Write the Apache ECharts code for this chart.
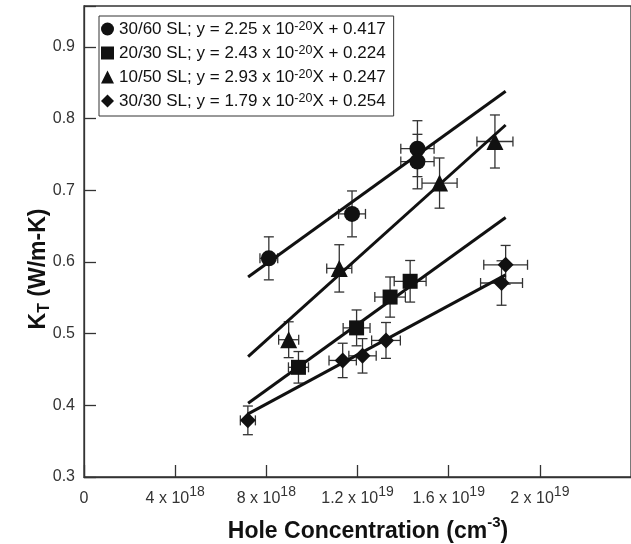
<!DOCTYPE html>
<html>
<head>
<meta charset="utf-8">
<script src="https://cdn.jsdelivr.net/npm/echarts@6/dist/echarts.min.js"></script>
<style>
  html, body { margin: 0; padding: 0; background: #fff; }
  #chart { width: 631px; height: 544px; }
</style>
</head>
<body>
<div id="chart"></div>
<script>
// hole concentration is kept in units of 1e18 cm^-3
const seriesNames = ['30/60 SL', '20/30 SL', '10/50 SL', '30/30 SL']
const symbols = ['circle', 'rect', 'triangle', 'diamond']
const symbolSizes = [16, 15, 17, 16]
const fitSlopes = ['2.25', '2.43', '2.93', '1.79']
const fitIntercepts = ['0.417', '0.224', '0.247', '0.254']

// 30/60 SL
const x3060 = [8.11, 11.76, 14.63, 14.63]
const y3060 = [0.605, 0.667, 0.758, 0.740]
const xErr3060 = [0.39, 0.59, 0.73, 0.73]
const yErr3060 = [0.030, 0.032, 0.039, 0.038]
// 20/30 SL
const x2030 = [9.41, 11.96, 13.43, 14.31]
const y2030 = [0.453, 0.508, 0.551, 0.573]
const xErr2030 = [0.44, 0.59, 0.67, 0.70]
const yErr2030 = [0.022, 0.025, 0.028, 0.029]
// 10/50 SL
const x1050 = [8.98, 11.2, 15.6, 18.03]
const y1050 = [0.4915, 0.591, 0.71, 0.768]
const xErr1050 = [0.44, 0.55, 0.77, 0.79]
const yErr1050 = [0.025, 0.033, 0.035, 0.037]
// 30/30 SL
const x3030 = [7.19, 11.35, 12.22, 13.25, 18.32, 18.5]
const y3030 = [0.379, 0.4626, 0.469, 0.4905, 0.5706, 0.596]
const xErr3030 = [0.33, 0.6, 0.6, 0.63, 0.92, 0.96]
const yErr3030 = [0.02, 0.024, 0.024, 0.025, 0.031, 0.027]

// fitted lines, end points
const fitX = [7.2, 18.5]
const fit3060 = [0.579, 0.838]
const fit2030 = [0.403, 0.662]
const fit1050 = [0.468, 0.791]
const fit3030 = [0.388, 0.582]

// x tick labels: mantissa x 10^exp
const xTicks = [0, 4, 8, 12, 16, 20]
const xTickMantissa = ['0', '4', '8', '1.2', '1.6', '2']
const xTickExp = ['', '18', '18', '19', '19', '19']

const groups = [
  { x: x3060, y: y3060, ex: xErr3060, ey: yErr3060, fit: fit3060 },
  { x: x2030, y: y2030, ex: xErr2030, ey: yErr2030, fit: fit2030 },
  { x: x1050, y: y1050, ex: xErr1050, ey: yErr1050, fit: fit1050 },
  { x: x3030, y: y3030, ex: xErr3030, ey: yErr3030, fit: fit3030 }
]

const FONT = '"Liberation Sans", Arial, Helvetica, sans-serif'
const INK = '#111'

function errorBars(params, api) {
  const x = api.value(0)
  const y = api.value(1)
  const ex = api.value(2)
  const ey = api.value(3)
  const c = api.coord([x, y])
  const top = api.coord([x, y + ey])[1]
  const bot = api.coord([x, y - ey])[1]
  const lft = api.coord([x - ex, y])[0]
  const rgt = api.coord([x + ex, y])[0]
  const cap = 5
  const style = { stroke: '#333', lineWidth: 1.3 }
  return {
    type: 'group',
    children: [
      { type: 'line', shape: { x1: c[0], y1: top, x2: c[0], y2: bot }, style },
      { type: 'line', shape: { x1: c[0] - cap, y1: top, x2: c[0] + cap, y2: top }, style },
      { type: 'line', shape: { x1: c[0] - cap, y1: bot, x2: c[0] + cap, y2: bot }, style },
      { type: 'line', shape: { x1: lft, y1: c[1], x2: rgt, y2: c[1] }, style },
      { type: 'line', shape: { x1: lft, y1: c[1] - cap, x2: lft, y2: c[1] + cap }, style },
      { type: 'line', shape: { x1: rgt, y1: c[1] - cap, x2: rgt, y2: c[1] + cap }, style }
    ]
  }
}

const series = []
groups.forEach((g, i) => {
  series.push({
    name: 'err' + i,
    type: 'custom',
    renderItem: errorBars,
    data: g.x.map((v, k) => [v, g.y[k], g.ex[k], g.ey[k]]),
    encode: { x: 0, y: 1 },
    clip: false,
    silent: true,
    z: 2
  })
  series.push({
    name: 'fit' + i,
    type: 'line',
    data: fitX.map((v, k) => [v, g.fit[k]]),
    symbol: 'none',
    lineStyle: { color: INK, width: 3 },
    silent: true,
    z: 3
  })
  series.push({
    name: seriesNames[i],
    type: 'scatter',
    symbol: symbols[i],
    symbolSize: symbolSizes[i],
    data: g.x.map((v, k) => [v, g.y[k]]),
    itemStyle: { color: INK, opacity: 1 },
    z: 4
  })
})

const myChart = echarts.init(document.getElementById('chart'))
myChart.setOption({
  backgroundColor: '#fff',
  animation: false,
  textStyle: { fontFamily: FONT },
  grid: {
    left: 84,
    top: 6,
    right: -1,
    bottom: 67,
    show: true,
    borderColor: '#333',
    borderWidth: 1.3
  },
  legend: {
    data: seriesNames,
    orient: 'vertical',
    left: 99,
    top: 16,
    padding: [4, 8, 6, 2],
    itemGap: 6,
    itemWidth: 13,
    itemHeight: 13,
    backgroundColor: '#fff',
    borderColor: '#333',
    borderWidth: 1,
    borderRadius: 0,
    formatter: name => {
      const i = seriesNames.indexOf(name)
      return '{a|' + name + '; y = ' + fitSlopes[i] + ' x 10}{s|-20}{a|X + ' + fitIntercepts[i] + '}'
    },
    textStyle: {
      rich: {
        a: { fontFamily: FONT, fontSize: 17, color: INK, lineHeight: 18, verticalAlign: 'bottom' },
        s: { fontFamily: FONT, fontSize: 12.5, color: INK, lineHeight: 12, verticalAlign: 'top' }
      }
    }
  },
  xAxis: {
    type: 'value',
    min: 0,
    max: 24,
    interval: 4,
    splitLine: { show: false },
    axisLine: { lineStyle: { color: '#333', width: 1.3 } },
    axisTick: { inside: true, length: 12, lineStyle: { color: '#333', width: 1.3 } },
    axisLabel: {
      margin: 8,
      showMaxLabel: false,
      formatter: v => {
        const i = xTicks.indexOf(v)
        if (i < 0) return ''
        if (!xTickExp[i]) return '{m|' + xTickMantissa[i] + '}'
        return '{m|' + xTickMantissa[i] + ' x 10}{e|' + xTickExp[i] + '}'
      },
      rich: {
        m: { fontFamily: FONT, fontSize: 16, color: '#333', lineHeight: 22, verticalAlign: 'bottom' },
        e: { fontFamily: FONT, fontSize: 14, color: '#333', lineHeight: 12, verticalAlign: 'top' }
      }
    }
  },
  yAxis: {
    type: 'value',
    min: 0.3,
    max: 0.957,
    interval: 0.1,
    splitLine: { show: false },
    axisLine: { lineStyle: { color: '#333', width: 1.3 } },
    axisTick: { inside: true, length: 12, lineStyle: { color: '#333', width: 1.3 } },
    axisLabel: {
      margin: 9,
      fontFamily: FONT,
      fontSize: 16,
      color: '#333',
      formatter: v => (Math.abs(v * 10 - Math.round(v * 10)) < 1e-6 ? v.toFixed(1) : '')
    }
  },
  graphic: [
    {
      type: 'text',
      x: 40,
      y: 269,
      rotation: Math.PI / 2,
      style: {
        text: '{k|K}{t|T}{k| (W/m-K)}',
        align: 'center',
        verticalAlign: 'middle',
        rich: {
          k: { fontFamily: FONT, fontSize: 23, fontWeight: 'bold', fill: INK, lineHeight: 26, verticalAlign: 'top' },
          t: { fontFamily: FONT, fontSize: 16, fontWeight: 'bold', fill: INK, lineHeight: 16, verticalAlign: 'bottom' }
        }
      }
    },
    {
      type: 'text',
      x: 368,
      y: 529,
      style: {
        text: '{a|Hole Concentration (cm}{s|-3}{a|)}',
        align: 'center',
        verticalAlign: 'middle',
        rich: {
          a: { fontFamily: FONT, fontSize: 23, fontWeight: 'bold', fill: INK, lineHeight: 28, verticalAlign: 'bottom' },
          s: { fontFamily: FONT, fontSize: 15, fontWeight: 'bold', fill: INK, lineHeight: 13, verticalAlign: 'top' }
        }
      }
    }
  ],
  series: series
})
</script>
</body>
</html>
